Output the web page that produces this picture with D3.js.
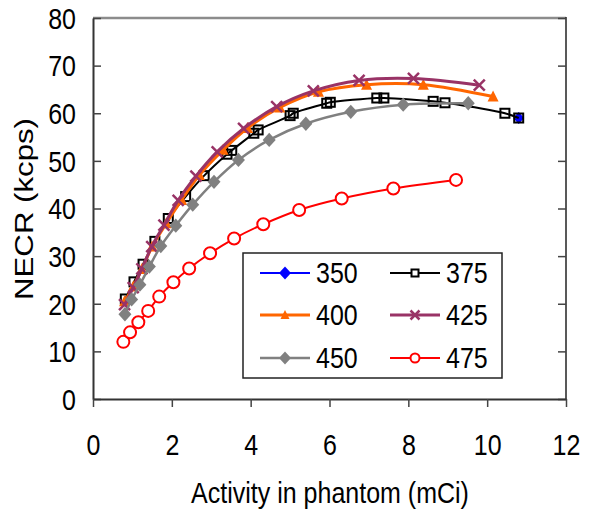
<!DOCTYPE html>
<html>
<head>
<meta charset="utf-8">
<script src="https://cdn.jsdelivr.net/npm/d3@7"></script>
<style>
  body { margin: 0; background: #fff; }
  svg { display: block; font-family: "Liberation Sans", Arial, sans-serif; }
</style>
</head>
<body>
<svg id="chart" width="594" height="513"></svg>
<script>
// Series data: [activity (mCi), NECR (kcps)]
const s350 = [[10.8, 59.0]];
const s375 = [[0.82, 21.0], [1.04, 24.6], [1.27, 28.3], [1.57, 33.1], [1.91, 37.9], [2.35, 42.5], [2.82, 46.9],
  [3.40, 51.4], [3.52, 52.2], [4.08, 55.8], [4.19, 56.5], [5.00, 59.5], [5.08, 60.0], [5.93, 62.1], [6.02, 62.3],
  [7.20, 63.2], [7.38, 63.2], [8.63, 62.5], [8.93, 62.2], [10.45, 60.0], [10.80, 59.0]];
const s400 = [[0.80, 20.5], [1.02, 23.6], [1.24, 27.3], [1.50, 32.0], [1.86, 36.9], [2.25, 41.8], [2.70, 47.0],
  [3.30, 52.3], [3.92, 56.9], [4.74, 61.2], [5.72, 64.5], [6.94, 66.0], [8.38, 66.0], [10.15, 63.5]];
const s425 = [[0.80, 19.8], [1.02, 23.4], [1.24, 27.3], [1.49, 32.0], [1.80, 36.5], [2.16, 41.7], [2.61, 46.8],
  [3.15, 51.9], [3.82, 56.8], [4.66, 61.4], [5.59, 64.7], [6.75, 66.9], [8.13, 67.3], [9.80, 65.9]];
const s450 = [[0.81, 17.8], [0.98, 20.9], [1.19, 24.0], [1.43, 27.8], [1.72, 32.1], [2.10, 36.4], [2.53, 40.8],
  [3.07, 45.6], [3.69, 50.2], [4.47, 54.4], [5.40, 57.8], [6.54, 60.3], [7.87, 61.8], [9.52, 62.1]];
const s475 = [[0.77, 12.0], [0.94, 14.0], [1.15, 16.1], [1.40, 18.5], [1.68, 21.5], [2.04, 24.5], [2.44, 27.4],
  [2.97, 30.6], [3.58, 33.7], [4.32, 36.7], [5.23, 39.7], [6.31, 42.1], [7.62, 44.2], [9.21, 46.0]];

const seriesNames = ["350", "375", "400", "425", "450", "475"];
const xTicks = [0, 2, 4, 6, 8, 10, 12];
const yTicks = [0, 10, 20, 30, 40, 50, 60, 70, 80];

const series = [
  { name: "350", data: s350, color: "#0000ff", width: 2, marker: "diamond", size: 11, lsize: 12 },
  { name: "375", data: s375, color: "#000000", width: 2, marker: "square", size: 9, lsize: 7 },
  { name: "400", data: s400, color: "#ff6600", width: 3, marker: "triangle", size: 11, lsize: 9 },
  { name: "425", data: s425, color: "#993366", width: 3, marker: "x", size: 11, lsize: 9 },
  { name: "450", data: s450, color: "#808080", width: 2.5, marker: "diamond", size: 13, lsize: 12 },
  { name: "475", data: s475, color: "#ff0000", width: 2, marker: "circle", size: 12, lsize: 9 }
];

const svg = d3.select("#chart");
const FS = 25, SY = 1.15;

const x = d3.scaleLinear().domain([0, 12]).range([93, 566]);
const y = d3.scaleLinear().domain([0, 80]).range([399, 18]);

// frame
svg.append("line").attr("x1", 93).attr("x2", 566).attr("y1", 18).attr("y2", 18)
  .attr("stroke", "#8c8c8c").attr("stroke-width", 2.5);
svg.append("line").attr("x1", 566).attr("x2", 566).attr("y1", 17).attr("y2", 400)
  .attr("stroke", "#222").attr("stroke-width", 1.5);

// right side ticks (inward)
svg.append("g").attr("transform", "translate(566,0)")
  .call(d3.axisRight(y).tickValues(yTicks).tickSizeInner(-8).tickSizeOuter(0).tickFormat(""))
  .call(g => g.select(".domain").remove())
  .call(g => g.selectAll(".tick line").attr("stroke", "#444").attr("stroke-width", 1.5));

// left axis
svg.append("g").attr("transform", "translate(93,0)")
  .call(d3.axisLeft(y).tickValues(yTicks).tickSizeInner(-8).tickSizeOuter(0).tickPadding(17))
  .call(g => g.select(".domain").attr("stroke", "#333").attr("stroke-width", 2))
  .call(g => g.selectAll(".tick line").attr("stroke", "#444").attr("stroke-width", 1.5))
  .call(g => g.selectAll(".tick text").attr("font-size", FS).attr("font-family", null)
    .attr("fill", "#000").attr("dy", "0.36em").attr("transform", `scale(1,${SY})`));

// bottom axis
svg.append("g").attr("transform", "translate(0,399)")
  .call(d3.axisBottom(x).tickValues(xTicks).tickSizeInner(8).tickSizeOuter(0))
  .call(g => g.select(".domain").attr("stroke", "#333").attr("stroke-width", 2))
  .call(g => g.selectAll(".tick line").attr("stroke", "#444").attr("stroke-width", 1.5))
  .call(g => g.selectAll(".tick text").attr("font-size", FS).attr("font-family", null)
    .attr("fill", "#000").attr("y", 0).attr("dy", null).attr("transform", `translate(0,56) scale(1,${SY})`));

// axis titles
svg.append("text").attr("transform", `translate(330,503) scale(1,${SY})`)
  .attr("text-anchor", "middle").attr("font-size", FS).text("Activity in phantom (mCi)");
svg.append("text").attr("transform", `translate(33,209) scale(1,1.2) rotate(-90)`)
  .attr("text-anchor", "middle").attr("font-size", 26).text("NECR (kcps)");

function drawMarker(g, s, cx, cy, size, legend) {
  const h = size / 2;
  if (s.marker === "diamond") {
    g.append("path").attr("d", `M${cx},${cy - h * 1.1}L${cx + h},${cy}L${cx},${cy + h * 1.1}L${cx - h},${cy}Z`)
      .attr("fill", s.color);
  } else if (s.marker === "square") {
    g.append("rect").attr("x", cx - h).attr("y", cy - h).attr("width", size).attr("height", size)
      .attr("fill", legend ? "#fff" : "none").attr("stroke", s.color).attr("stroke-width", 2);
  } else if (s.marker === "triangle") {
    g.append("path").attr("d", `M${cx},${cy - h * 1.1}L${cx + h},${cy + h * 0.9}L${cx - h},${cy + h * 0.9}Z`)
      .attr("fill", s.color);
  } else if (s.marker === "x") {
    g.append("path").attr("d", `M${cx - h},${cy - h}L${cx + h},${cy + h}M${cx - h},${cy + h}L${cx + h},${cy - h}`)
      .attr("stroke", s.color).attr("stroke-width", 2.5).attr("fill", "none");
  } else if (s.marker === "circle") {
    g.append("circle").attr("cx", cx).attr("cy", cy).attr("r", h)
      .attr("fill", "#fff").attr("stroke", s.color).attr("stroke-width", 2);
  }
}

const line = d3.line().x(d => x(d[0])).y(d => y(d[1])).curve(d3.curveCatmullRom.alpha(0.5));

series.forEach(s => {
  const g = svg.append("g");
  if (s.data.length > 1) {
    g.append("path").datum(s.data).attr("d", line).attr("fill", "none")
      .attr("stroke", s.color).attr("stroke-width", s.width);
  }
  s.data.forEach(d => drawMarker(g, s, x(d[0]), y(d[1]), s.size, false));
});

// legend
const lg = svg.append("g");
lg.append("rect").attr("x", 243).attr("y", 253).attr("width", 259).attr("height", 125)
  .attr("fill", "#fff").attr("stroke", "#222").attr("stroke-width", 1.5);
const colX = [260, 390], rowY = [273, 315, 358];
series.forEach((s, i) => {
  const lx = colX[i % 2], ly = rowY[Math.floor(i / 2)];
  lg.append("line").attr("x1", lx).attr("x2", lx + 50).attr("y1", ly).attr("y2", ly)
    .attr("stroke", s.color).attr("stroke-width", s.width);
  drawMarker(lg, s, lx + 25, ly, s.lsize, true);
  lg.append("text").attr("transform", `translate(${lx + 56},${ly}) scale(1,${SY})`)
    .attr("dy", "0.36em").attr("font-size", FS).text(seriesNames[i]);
});
</script>
</body>
</html>
